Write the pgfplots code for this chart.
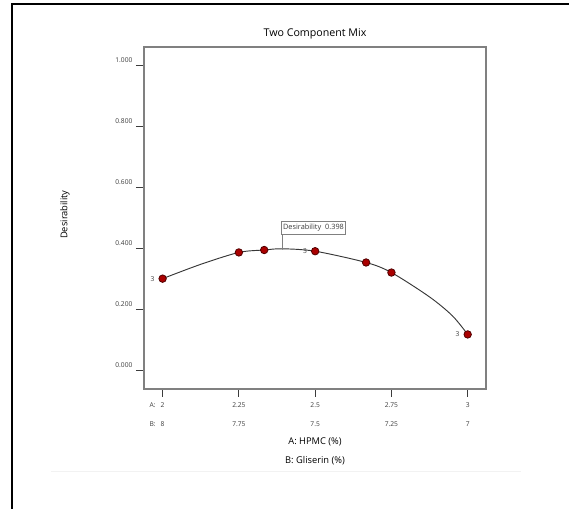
\documentclass[border=0pt]{standalone}
\usepackage{fontspec}
\setmainfont{Open Sans}
\usepackage{pgfplots}
\usepackage{pgfplotstable}
\pgfplotsset{compat=1.18}

\definecolor{axisgray}{RGB}{128,128,128}
\definecolor{tickgray}{RGB}{60,60,60}
\definecolor{dotred}{RGB}{170,0,0}
\definecolor{dotedge}{RGB}{80,0,0}
\definecolor{curvegray}{RGB}{55,55,55}

% design points
\pgfplotstableread{
x     y
2.000 0.300
2.250 0.386
2.333 0.394
2.500 0.390
2.667 0.353
2.750 0.320
3.000 0.117
}\pointdata

% desirability curve
\pgfplotstableread{
x     y
2.000 0.300
2.125 0.347
2.250 0.386
2.333 0.394
2.392 0.398
2.500 0.390
2.667 0.353
2.750 0.320
2.875 0.240
2.950 0.178
3.000 0.117
}\curvedata

% replicate counts
\pgfplotstableread{
x     y     lab
2.000 0.300 3
2.500 0.390 3
3.000 0.117 3
}\repdata

\begin{document}
\begin{tikzpicture}
\path[use as bounding box] (-108pt,-90pt) rectangle (318.75pt,291.75pt);
\draw[line width=1.5pt] (-99pt,-91pt) -- (-99pt,288.5pt) -- (319.5pt,288.5pt);
\draw[line width=0.75pt, black!5] (-69.75pt,-62pt) -- (282.75pt,-62pt);
\begin{axis}[
  at={(0,0)}, anchor=south west,
  scale only axis, width=256.5pt, height=256.5pt,
  xmin=1.939, xmax=3.06, ymin=-0.062, ymax=1.06,
  axis line style={axisgray, line width=1pt},
  tick align=outside, major tick length=6pt,
  tick style={tickgray, line width=0.7pt},
  xtick pos=left, ytick pos=left,
  xtick={2,2.25,2.5,2.75,3},
  xticklabels={{2\\8},{2.25\\7.75},{2.5\\7.5},{2.75\\7.25},{3\\7}},
  xticklabel style={font=\fontsize{5}{14.25}\selectfont, align=center,
    text=tickgray, anchor=north, inner sep=0pt, yshift=-4pt},
  ytick={0,0.2,0.4,0.6,0.8,1},
  yticklabel style={font=\fontsize{5}{6}\selectfont, text=tickgray,
    anchor=east, inner sep=0pt, xshift=-2.5pt, yshift=3.5pt,
    /pgf/number format/.cd, fixed, fixed zerofill, precision=3,
    assume math mode=true},
  title={Two Component Mix},
  title style={font=\fontsize{8}{9.6}\selectfont,
    at={(axis description cs:0.5,1)}, anchor=center, yshift=4pt},
  xlabel={A: HPMC (\%)\\B: Gliserin (\%)},
  xlabel style={font=\fontsize{7}{14.25}\selectfont, align=center,
    at={(axis description cs:0.5,0)}, anchor=north, inner sep=0pt, yshift=-36pt},
  ylabel={Desirability},
  ylabel style={font=\fontsize{7}{8.4}\selectfont,
    at={(axis description cs:-0.231,0.51)}, anchor=center},
  clip=false,
]
\addplot[curvegray, line width=0.7pt, smooth, tension=0.5, mark=none] table[x=x, y=y] {\curvedata};
\addplot[only marks, mark=none, nodes near coords, point meta=explicit symbolic,
  nodes near coords style={anchor=east, inner sep=0pt, xshift=-6pt,
    font=\fontsize{5}{6}\selectfont, text=tickgray}]
  table[x=x, y=y, meta=lab] {\repdata};
\addplot[only marks, mark=*, mark size=2.8pt,
  mark options={fill=dotred, draw=dotedge, line width=0.6pt}]
  table[x=x, y=y] {\pointdata};
\draw[axisgray, line width=0.8pt] (axis cs:2.392,0.398) -- ([yshift=10.5pt]axis cs:2.392,0.398);
\node[anchor=south west, draw=axisgray, fill=white, line width=0.8pt,
    inner xsep=1.5pt, inner ysep=0pt, minimum height=9.75pt,
    font=\fontsize{5.5}{6.6}\selectfont, text=tickgray]
  at ([xshift=-1.2pt, yshift=10.5pt]axis cs:2.392,0.398) {Desirability\hspace{3pt}0.398};
\fill[axisgray] (axis cs:2.392,0.398) circle (0.8pt);
\node[anchor=east, inner sep=0pt, font=\fontsize{5}{6}\selectfont, text=tickgray]
  at (axis description cs:0.0351,-0.0468) {A:};
\node[anchor=east, inner sep=0pt, font=\fontsize{5}{6}\selectfont, text=tickgray]
  at (axis description cs:0.0351,-0.1023) {B:};
\end{axis}
\end{tikzpicture}
\end{document}
